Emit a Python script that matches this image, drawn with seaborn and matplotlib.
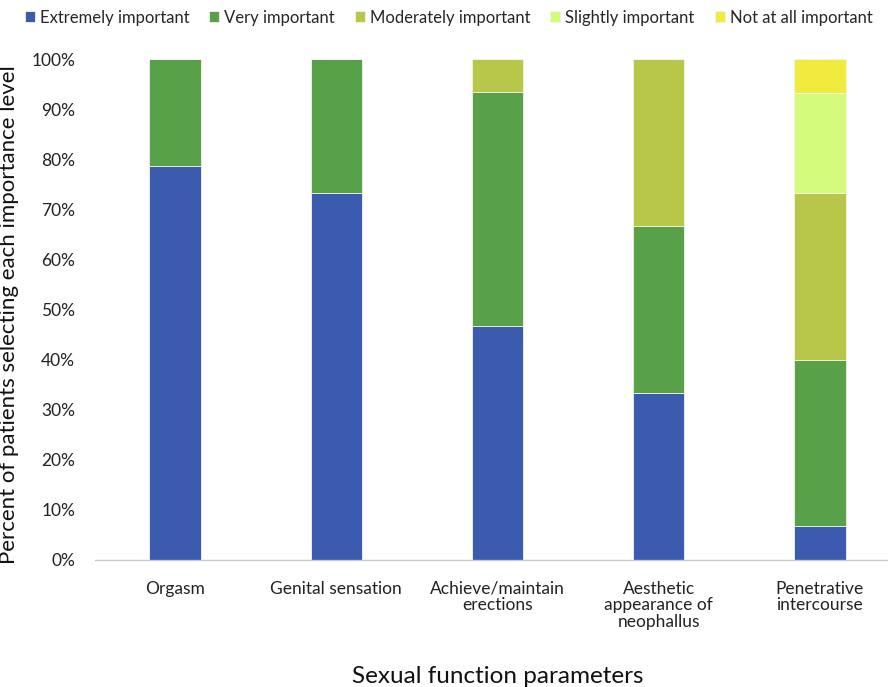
import seaborn as sns
import matplotlib.pyplot as plt
import pandas as pd
import numpy as np

# data (percent of patients)
parameters = ["Orgasm", "Genital sensation", "Achieve/maintain\nerections",
              "Aesthetic\nappearance of\nneophallus", "Penetrative\nintercourse"]
levels = ["Extremely important", "Very important", "Moderately important",
          "Slightly important", "Not at all important"]
extremely = [78.6, 73.3, 46.7, 33.3, 6.7]
very = [21.4, 26.7, 46.7, 33.3, 33.3]
moderately = [0, 0, 6.6, 33.4, 33.3]
slightly = [0, 0, 0, 0, 20.0]
not_at_all = [0, 0, 0, 0, 6.7]
colors = ["#3A5BAE", "#59A148", "#B8C74A", "#D5FB7C", "#F2EB3F"]

sns.set_style("white")
plt.rcParams["font.family"] = ["Lato", "DejaVu Sans"]

fig = plt.figure(figsize=(8.88, 6.87), dpi=100)
ax = fig.add_axes([94.5 / 888, 0.1849, 806 / 888, 0.729])

bottom = np.zeros(len(parameters))
for name, vals, c in zip(levels, [extremely, very, moderately, slightly, not_at_all], colors):
    df = pd.DataFrame({"param": parameters, "value": vals})
    sns.barplot(data=df, x="param", y="value", color=c, width=0.32, bottom=bottom,
                edgecolor="#f4f4e8", linewidth=0.6, label=name, ax=ax, saturation=1)
    bottom += np.array(vals)

ax.set_ylim(0, 100)
ax.set_xlim(-0.5, 4.5)
ax.set_yticks(np.arange(0, 101, 10))
ax.set_yticklabels([f"{v}%" for v in range(0, 101, 10)], fontsize=12.5, color="#222222")
ax.set_xticks(range(len(parameters)))
ax.set_xticklabels(parameters, fontsize=12.5, color="#222222", linespacing=1.05)
ax.tick_params(axis="x", length=0, pad=15)
ax.tick_params(axis="y", length=0, pad=14)
for s in ["top", "right", "left"]:
    ax.spines[s].set_visible(False)
ax.spines["bottom"].set_color("#c8c8c8")
ax.spines["bottom"].set_linewidth(1)
ax.set_ylabel("Percent of patients selecting each importance level", fontsize=16,
              color="#111111")
ax.yaxis.set_label_coords(-0.094, 0.49)
ax.set_xlabel("Sexual function parameters", fontsize=17.5, color="#111111", labelpad=26)

if ax.legend_:
    ax.legend_.remove()
handles, labels = ax.get_legend_handles_labels()
fig.legend(handles[:5], labels[:5], loc="upper center", bbox_to_anchor=(0.505, 1.008), ncol=5,
           frameon=False, fontsize=12, handlelength=0.6, handleheight=0.6,
           handletextpad=0.3, columnspacing=1.2)

fig.savefig("out.png", dpi=100)
